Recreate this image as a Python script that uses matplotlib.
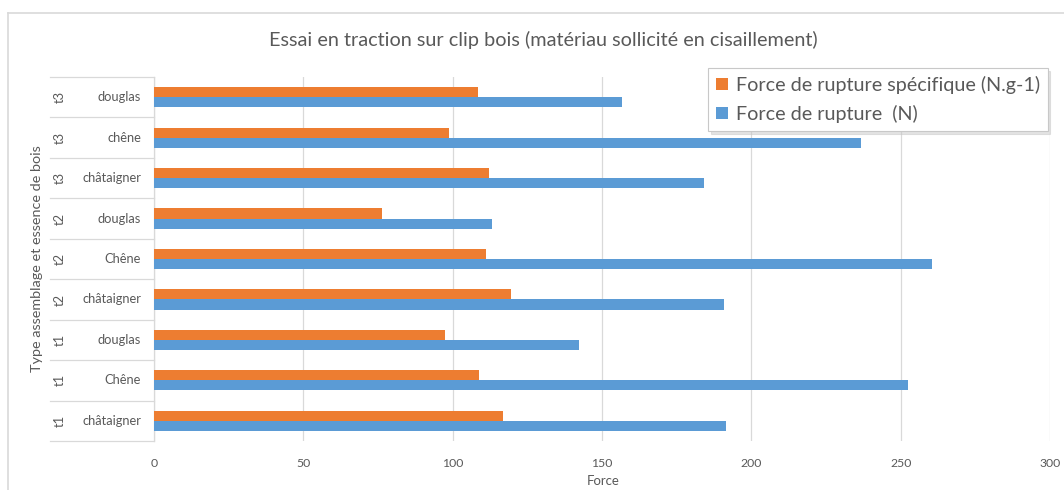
import matplotlib.pyplot as plt
from matplotlib.lines import Line2D
import matplotlib.transforms as mtransforms

plt.rcParams['font.family'] = ['Lato', 'DejaVu Sans']

# rows from bottom to top
assemblage = ['t1', 't1', 't1', 't2', 't2', 't2', 't3', 't3', 't3']
essence = ['châtaigner', 'Chêne', 'douglas', 'châtaigner', 'Chêne', 'douglas',
           'châtaigner', 'chêne', 'douglas']
force_rupture = [191.5, 252.5, 142.3, 190.7, 260.4, 113.1, 184.0, 236.6, 156.7]
force_specifique = [116.8, 108.8, 97.3, 119.4, 111.3, 76.3, 112.0, 98.9, 108.5]
xticks = [0, 50, 100, 150, 200, 250, 300]

BLUE = '#5B9BD5'
ORANGE = '#ED7D31'
GRID = '#d9d9d9'
TXT = '#595959'

W, H = 1064, 490
fig = plt.figure(figsize=(W / 100, H / 100), dpi=100)
ax = fig.add_axes([154 / W, 1 - 441 / H, 896 / W, 364 / H])

pos = list(range(len(essence)))
bh = 0.25
b_blue = ax.barh([p - bh / 2 for p in pos], force_rupture, height=bh, color=BLUE,
                 label='Force de rupture  (N)', zorder=3)
b_orange = ax.barh([p + bh / 2 for p in pos], force_specifique, height=bh, color=ORANGE,
                   label='Force de rupture spécifique (N.g-1)', zorder=3)

ax.set_xlim(0, 300)
ax.set_ylim(-0.5, len(essence) - 0.5)
ax.set_xticks(xticks)
ax.set_yticks([])
ax.grid(axis='x', color=GRID, linewidth=0.9, zorder=0)
for s in ['top', 'right', 'bottom']:
    ax.spines[s].set_visible(False)
ax.spines['left'].set_color(GRID)
ax.spines['left'].set_linewidth(0.9)
ax.tick_params(axis='x', length=0, pad=12, labelsize=8.8, labelcolor=TXT)

# two-level category labels on the left
trans = mtransforms.blended_transform_factory(ax.transAxes, ax.transData)
x_left = -(154 - 50) / 896
for i in range(len(essence) + 1):
    ax.add_line(Line2D([x_left, 0], [i - 0.5, i - 0.5], transform=trans,
                       color=GRID, linewidth=0.9, clip_on=False))
for i, (a, e) in enumerate(zip(assemblage, essence)):
    ax.text(-13 / 896, i, e, transform=trans, ha='right', va='center',
            fontsize=9.3, color=TXT)
    ax.text(-94 / 896, i, a, transform=trans, ha='center', va='center',
            rotation=90, fontsize=9.3, color=TXT)

fig.text(37 / W, 1 - 259 / H, 'Type assemblage et essence de bois', rotation=90,
         ha='center', va='center', fontsize=10.4, color=TXT)
fig.text(603 / W, 1 - 481 / H, 'Force', ha='center', va='center',
         fontsize=9.5, color=TXT)
fig.text(543 / W, 1 - 40 / H, 'Essai en traction sur clip bois (matériau sollicité en cisaillement)',
         ha='center', va='center', fontsize=14.3, color=TXT)

leg = fig.legend(handles=[b_orange, b_blue], loc='upper left',
                 bbox_to_anchor=(708 / W, 1 - 68 / H), borderaxespad=0, fontsize=14.2,
                 frameon=True, fancybox=False,
                 shadow={'color': '#c8c8c8', 'ox': 2, 'oy': -2},
                 handlelength=0.6, handleheight=0.6, handletextpad=0.4,
                 labelspacing=0.55, borderpad=0.4, labelcolor=TXT)
leg.get_frame().set_edgecolor('#c8c8c8')
leg.get_frame().set_linewidth(0.8)

# chart area border
fig.add_artist(Line2D([8 / W, 8 / W], [0, 1 - 13 / H], color=GRID, linewidth=1.2))
fig.add_artist(Line2D([8 / W, 1], [1 - 13 / H, 1 - 13 / H], color=GRID, linewidth=1.2))

fig.savefig('out.png', dpi=100)
